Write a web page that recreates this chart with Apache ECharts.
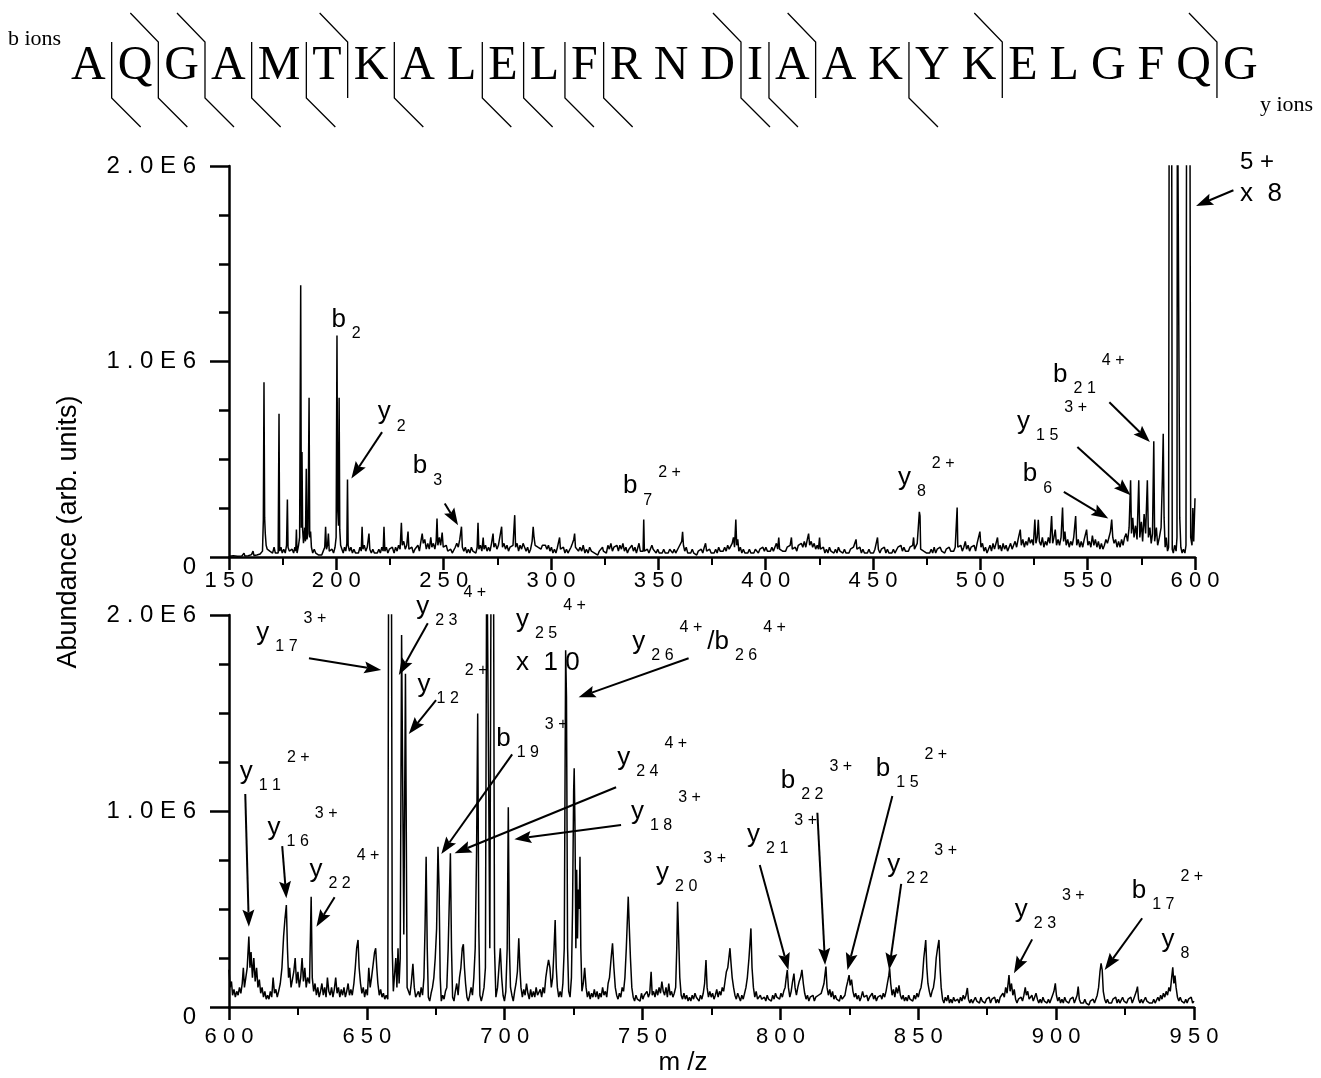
<!DOCTYPE html>
<html><head><meta charset="utf-8">
<script src="https://cdn.jsdelivr.net/npm/echarts@6/dist/echarts.min.js"></script>
<style>html,body{margin:0;padding:0;background:#fff}#c{width:1321px;height:1078px}</style>
</head><body><div id="c"></div>
<script>
// ---------------- data ----------------
const sequence = 'AQGAMTKALELFRNDIAAKYKELGFQG'.split('');
const bCleavages = [1,2,3,4,5,7,9,10,11,12,15,16,19];   // cleavage after residue n (b-ion marker)
const yCleavages = [2,3,6,15,17,21,26];                 // cleavage after residue n (y-ion marker)

const topRange = [150, 600];
const bottomRange = [600, 950];
const abundanceRange = [0, 2];   // in units of 1E6

// top panel spectrum  [m/z, abundance (E6)]
const topSpectrum = [
[150,0.004],[152,0.006],[154,0.004],[156,0.005],[157,0.02],[157.4,0.005],[159,0.006],[160.5,0.012],[161.2,0.03],[161.6,0.008],[163,0.01],[164.5,0.015],
[165.6,0.03],[166.0,0.19],[166.3,0.894],[166.6,0.2],[166.9,0.12],[167.3,0.06],[167.8,0.04],[168.4,0.05],[169,0.03],[169.6,0.04],[170.3,0.02],[171,0.05],[171.6,0.02],[172.3,0.03],[172.9,0.02],
[173.3,0.733],[173.6,0.03],[174.2,0.05],[174.8,0.02],[175.5,0.04],[176.2,0.02],[176.8,0.06],[177.2,0.294],[177.5,0.05],[178.1,0.03],[178.8,0.02],[179.4,0.04],[180.1,0.02],[180.7,0.05],[181.1,0.03],[181.4,0.14],[181.7,0.02],[182.4,0.06],[182.9,0.1],[183.4,1.39],[183.7,0.15],[184.0,0.537],[184.3,0.14],[184.7,0.07],[185.2,0.15],[185.6,0.08],[186.0,0.452],[186.3,0.09],[186.8,0.12],[187.3,0.815],[187.6,0.1],[188.0,0.13],[188.4,0.05],[189,0.02],[189.7,0.04],[190.4,0.02],[191.1,0.03],[191.8,0.01],[192.5,0.02],[193.2,0.01],[193.9,0.03],[194.6,0.05],[195.0,0.155],[195.4,0.04],[195.9,0.06],[196.3,0.12],[196.7,0.03],[197.3,0.02],[198,0.04],[198.7,0.02],[199.4,0.05],[199.9,0.1],[200.3,1.133],[200.6,0.25],[201.0,0.16],[201.3,0.815],[201.6,0.14],[202.0,0.06],[202.6,0.04],[203.2,0.02],[203.8,0.05],[204.4,0.03],[204.9,0.07],[205.2,0.396],[205.5,0.06],[206.1,0.03],[206.8,0.05],[207.5,0.02],[208.2,0.04],[208.9,0.02],[209.6,0.03],[210.3,0.02],[211,0.05],[211.6,0.03],[212,0.155],[212.4,0.04],[213,0.06],[213.7,0.03],[214.4,0.05],[215.2,0.12],[215.6,0.04],[216.3,0.02],[217,0.04],[217.7,0.02],[218.4,0.03],[219.1,0.02],[219.8,0.04],[220.5,0.02],[221.2,0.05],[221.8,0.03],[222.2,0.155],[222.6,0.03],[223.3,0.05],[224,0.02],[224.7,0.04],[225.4,0.03],[226.1,0.05],[226.5,0.06],[226.9,0.02],[227.6,0.05],[228.3,0.03],[229,0.06],[229.7,0.04],[230.3,0.175],[230.7,0.06],[231.4,0.08],[232.1,0.04],[232.8,0.06],[233.4,0.13],[233.8,0.04],[234.5,0.03],[235.2,0.05],[235.9,0.02],[236.6,0.04],[237.3,0.03],[238,0.06],[238.7,0.03],[239.4,0.08],[240,0.12],[240.5,0.07],[241.2,0.09],[241.9,0.04],[242.6,0.07],[243.3,0.04],[244,0.1],[244.5,0.05],[245.2,0.07],[245.9,0.04],[246.5,0.08],[246.9,0.197],[247.3,0.06],[248,0.1],[248.6,0.06],[249.3,0.125],[249.8,0.05],[250.5,0.04],[251.2,0.06],[251.9,0.03],[252.6,0.02],[253.3,0.04],[254,0.02],[254.7,0.03],[255.4,0.05],[256.1,0.07],[256.8,0.05],[257.5,0.09],[258,0.1],[258.3,0.155],[258.7,0.05],[259.4,0.03],[260.1,0.05],[260.8,0.02],[261.5,0.04],[262.2,0.02],[262.9,0.05],[263.6,0.03],[264.3,0.04],[265,0.02],[265.6,0.05],[266,0.175],[266.4,0.04],[267.1,0.06],[267.8,0.03],[268.4,0.1],[268.8,0.04],[269.5,0.06],[270.2,0.03],[270.9,0.05],[271.6,0.03],[272.3,0.07],[273,0.12],[273.4,0.05],[274.1,0.07],[274.8,0.04],[275.5,0.06],[276.2,0.05],[277,0.155],[277.4,0.05],[278.1,0.07],[278.8,0.04],[279.5,0.06],[280.2,0.03],[280.9,0.05],[281.6,0.04],[282.3,0.06],[283.1,0.214],[283.5,0.05],[284.2,0.07],[284.9,0.03],[285.6,0.06],[286.3,0.04],[287,0.07],[287.7,0.05],[288.4,0.03],[289.1,0.05],[289.8,0.02],[290.5,0.04],[291.2,0.08],[291.7,0.155],[292.1,0.1],[292.6,0.06],[293.2,0.07],[293.9,0.05],[294.6,0.06],[295.3,0.04],[296,0.06],[296.7,0.05],[297.4,0.06],[298.1,0.04],[298.8,0.06],[299.5,0.03],[300.2,0.05],[300.9,0.02],[301.6,0.04],[302.3,0.02],[303,0.05],[303.6,0.06],[304,0.1],[304.4,0.04],[305.1,0.03],[305.8,0.05],[306.5,0.02],[307.2,0.04],[307.9,0.02],[308.6,0.03],[309.3,0.05],[310,0.07],[310.6,0.09],[311,0.12],[311.4,0.05],[312.1,0.06],[312.8,0.03],
[313.5,0.05],[314.3,0.03],[315,0.06],[315.8,0.02],[316.5,0.04],[317.3,0.02],[318,0.05],[318.8,0.03],[319.5,0.04],[320.3,0.02],[321,0.03],[321.8,0.01],[322.5,0.03],[323.2,0.02],[324,0.05],[324.4,0.03],[325.1,0.04],[325.8,0.02],[326.5,0.06],[327.2,0.04],[327.9,0.07],[328.6,0.03],[329.3,0.05],[330,0.04],[330.7,0.06],[331.4,0.03],[332.1,0.06],[332.8,0.04],[333.5,0.07],[334.2,0.03],[334.9,0.05],[335.6,0.02],[336.3,0.04],[337,0.03],[337.7,0.06],[338.4,0.03],[339.1,0.05],[339.8,0.02],[340.5,0.05],[341,0.07],[341.6,0.03],[342.3,0.04],[342.9,0.03],[343.2,0.192],[343.5,0.03],[344.2,0.02],[344.9,0.04],[345.6,0.02],[346.3,0.03],[347,0.06],[347.6,0.04],[348.3,0.05],[349,0.02],[349.7,0.04],[350.4,0.02],[351.1,0.03],[351.8,0.02],[352.5,0.04],[353.2,0.02],[353.9,0.03],[354.6,0.02],[355.3,0.04],[356,0.03],[356.7,0.02],[357.4,0.04],[358.1,0.02],[358.8,0.03],[359.5,0.05],[360.2,0.04],[360.9,0.08],[361.3,0.129],[361.7,0.06],[362.3,0.03],[363,0.05],[363.7,0.02],[364.4,0.03],[365.1,0.02],[365.8,0.04],[366.5,0.02],[367.2,0.03],[367.9,0.01],[368.6,0.03],[369.3,0.02],[370,0.04],[370.7,0.02],[371.4,0.05],[372,0.07],[372.5,0.03],[373.2,0.02],[373.9,0.04],[374.6,0.02],[375.3,0.03],[376,0.02],[376.7,0.04],[377.4,0.02],[378.1,0.05],[378.8,0.03],[379.5,0.04],[380.2,0.03],[380.9,0.05],[381.6,0.03],[382.3,0.06],[383,0.04],[383.7,0.05],[384.4,0.07],[385,0.1],[385.5,0.05],[386.1,0.192],[386.5,0.06],[387,0.09],[387.5,0.03],[388.2,0.05],[388.9,0.02],[389.6,0.04],[390.3,0.02],[391,0.03],[391.7,0.02],[392.4,0.04],[393.1,0.02],[393.8,0.03],[394.5,0.02],[395.2,0.04],[395.9,0.03],[396.6,0.02],[397.3,0.04],[398,0.03],[398.7,0.05],[399.4,0.03],[400.1,0.05],[400.8,0.03],[401.5,0.04],[402.2,0.03],[402.9,0.05],[403.6,0.03],[404.3,0.05],[405,0.07],[405.6,0.04],[406.1,0.1],[406.5,0.04],[407.2,0.05],[407.9,0.03],[408.6,0.04],[409.3,0.03],[410,0.05],[410.7,0.04],[411.4,0.06],[412,0.1],[412.4,0.04],[413.1,0.03],[413.8,0.05],[414.5,0.03],[415.2,0.06],[415.9,0.05],[416.6,0.07],[417.3,0.05],[418,0.08],[418.7,0.05],[419.4,0.09],[420,0.12],[420.5,0.06],[421.2,0.08],[421.9,0.05],[422.6,0.07],[423.3,0.04],[424,0.06],[424.6,0.04],[425.1,0.1],[425.5,0.04],[426.2,0.03],[426.9,0.05],[427.6,0.02],[428.3,0.04],[429,0.02],[429.7,0.05],[430.4,0.03],[431.1,0.04],[431.8,0.02],[432.5,0.04],[433.2,0.02],[433.9,0.05],[434.6,0.03],[435.3,0.04],[436,0.02],[436.7,0.04],[437.4,0.02],[438.1,0.03],[438.8,0.02],[439.5,0.04],[440.2,0.03],[440.9,0.05],[441.6,0.04],[442.1,0.09],[442.5,0.04],[443.2,0.03],[443.9,0.05],[444.6,0.02],[445.3,0.04],[446,0.02],[446.7,0.03],[447.4,0.02],[448.1,0.04],[448.8,0.02],[449.5,0.03],[450.2,0.02],[450.9,0.04],[451.6,0.05],[452.1,0.1],[452.5,0.04],[453.2,0.02],[453.9,0.04],[454.6,0.03],[455.3,0.05],[456,0.02],[456.7,0.04],[457.4,0.02],[458.1,0.03],[458.8,0.02],[459.5,0.04],[460.2,0.02],[460.9,0.03],[461.6,0.05],[462.3,0.04],[463,0.06],[463.7,0.03],[464.4,0.05],[465.1,0.03],[465.8,0.04],[466.5,0.03],[467.2,0.05],[467.9,0.04],[468.5,0.06],[468.9,0.1],[469.3,0.04],[470,0.05],[470.6,0.07],[471.1,0.15],[471.6,0.231],[471.9,0.21],[472.2,0.04],[472.9,0.05],[473.6,0.03],[474.3,0.04],[475,0.02],[475.7,0.03],[476.4,0.02],[477.1,0.04],[477.8,0.02],[478.5,0.05],[479.2,0.02],[479.9,0.04],[480.6,0.03],[481.3,0.05],[482,0.03],[482.7,0.04],[483.4,0.02],[484.1,0.04],[484.8,0.03],[485.5,0.05],[486.2,0.03],[486.9,0.04],[487.6,0.03],[488.3,0.05],[488.9,0.06],[489.2,0.253],[489.5,0.05],[490.2,0.04],
[490.9,0.06],[491.6,0.03],[492.3,0.05],[493,0.08],[493.6,0.04],[494.3,0.06],[495,0.03],[495.7,0.05],[496.4,0.04],[497.1,0.06],[497.8,0.03],[498.5,0.07],[499.2,0.06],[499.8,0.13],[500.3,0.05],[501,0.07],[501.7,0.03],[502.4,0.05],[503.1,0.02],[503.8,0.04],[504.5,0.06],[505.2,0.03],[505.9,0.07],[506.6,0.04],[507.3,0.05],[508,0.1],[508.5,0.04],[509.2,0.06],[509.9,0.03],[510.6,0.07],[511.3,0.04],[512,0.06],[512.7,0.03],[513.4,0.05],[514.1,0.07],[514.8,0.04],[515.5,0.06],[516.2,0.08],[516.9,0.05],[517.6,0.09],[518.6,0.14],[519.1,0.06],[519.8,0.09],[520.5,0.05],[521.2,0.08],[521.9,0.06],[522.6,0.1],[523.3,0.07],[524,0.09],[524.7,0.06],[525.4,0.192],[525.9,0.07],[526.5,0.1],[527,0.19],[527.5,0.08],[528.2,0.06],[528.9,0.1],[529.6,0.05],[530.3,0.08],[531,0.06],[531.7,0.1],[532.4,0.07],[533.2,0.209],[533.7,0.07],[534.3,0.1],[534.9,0.14],[535.5,0.06],[536.2,0.09],[536.9,0.06],[537.6,0.1],[538.3,0.253],[538.8,0.08],[539.4,0.13],[540,0.06],[540.7,0.09],[541.4,0.05],[542.1,0.08],[542.8,0.06],[543.5,0.1],[544.4,0.209],[544.9,0.06],[545.6,0.09],[546.3,0.05],[547,0.08],[547.7,0.05],[548.4,0.09],[549.5,0.14],[550.1,0.06],[550.8,0.08],[551.5,0.05],[552.2,0.11],[552.9,0.06],[553.6,0.09],[554.3,0.05],[555,0.08],[555.7,0.04],[556.4,0.07],[557.1,0.04],[557.8,0.06],[558.5,0.09],[559.2,0.07],[559.9,0.1],[560.6,0.13],[561.2,0.192],[561.7,0.1],[562.3,0.07],[563,0.09],[563.7,0.05],[564.4,0.08],[565.1,0.05],[565.8,0.09],[566.5,0.06],[567.2,0.1],[567.9,0.12],[568.6,0.08],[569.3,0.15],[570,0.393],[570.4,0.12],[571,0.2],[571.6,0.1],[572.3,0.16],[573,0.09],[573.8,0.393],[574.3,0.1],[575,0.18],[575.6,0.08],[576.3,0.22],[577,0.12],[577.8,0.393],[578.3,0.1],[579,0.15],[579.6,0.07],[580.2,0.12],[580.8,0.592],[581.2,0.08],[582,0.15],[582.6,0.06],[583.4,0.1],[584.2,0.15],
[584.8,0.4],[585.2,0.631],[585.6,0.2],[586.1,0.05],[586.6,0.1],[587.2,0.03],[587.7,0.05],[588.0,2.6],[589.1,2.6],[589.4,0.04],[589.9,0.02],[590.5,0.06],[591.2,0.03],[591.6,0.1],[591.8,2.6],[592.6,2.6],[592.9,0.2],[593.4,0.05],[594.0,0.02],[594.6,0.04],[595.3,0.02],[595.8,0.06],[596.1,2.6],[597.6,2.6],[598.0,0.1],[598.6,0.06],[599.0,0.25],[599.4,0.08],[600,0.3]
];

// bottom panel spectrum  [m/z, abundance (E6)]
const bottomSpectrum = [
[600,0.19],[600.4,0.1],[600.9,0.13],[601.3,0.06],[601.8,0.09],[602.3,0.05],[602.8,0.08],[603.3,0.06],[603.8,0.1],[604.3,0.07],[604.8,0.12],[605.2,0.2],[605.6,0.1],[606.1,0.15],[606.6,0.2],[607.2,0.359],[607.6,0.2],[608,0.28],[608.5,0.15],[609,0.25],[609.5,0.13],[610,0.2],[610.5,0.1],[611,0.14],[611.5,0.07],[612,0.1],[612.5,0.05],[613,0.08],[613.5,0.04],[614,0.06],[614.5,0.04],[615,0.08],[615.5,0.05],[616,0.15],[616.5,0.07],[617,0.09],[617.5,0.05],[618,0.08],[618.6,0.12],[619.2,0.2],[619.8,0.36],[620.3,0.45],[620.8,0.52],[621.2,0.3],[621.6,0.15],[622,0.2],[622.5,0.1],[623,0.14],[623.5,0.18],[624,0.25],[624.5,0.12],[625,0.18],[625.5,0.1],[626,0.15],[626.5,0.25],[627,0.13],[627.5,0.2],[628,0.1],[628.5,0.15],[629.2,0.12],[629.8,0.563],[630.2,0.15],[630.7,0.08],[631.2,0.12],[631.7,0.06],[632.2,0.1],[632.7,0.05],[633.2,0.08],[633.7,0.12],[634.2,0.06],[634.7,0.1],[635.2,0.05],[635.7,0.15],[636.2,0.08],[636.7,0.06],[637.2,0.1],[637.7,0.05],[638.2,0.09],[638.7,0.15],[639.2,0.07],[639.7,0.1],[640.2,0.05],[640.7,0.09],[641.2,0.06],[641.7,0.1],[642.2,0.05],[642.7,0.08],[643.2,0.12],[643.7,0.06],[644.2,0.09],[644.7,0.06],[645.3,0.12],[645.8,0.2],[646.3,0.3],[646.8,0.342],[647.2,0.2],[647.7,0.12],[648.2,0.07],[648.7,0.1],[649.2,0.05],[649.7,0.09],[650.2,0.06],[650.7,0.2],[651.2,0.1],[651.7,0.15],[652.3,0.22],[652.8,0.28],[653.2,0.3],[653.6,0.2],[654,0.12],[654.5,0.06],[655,0.09],[655.5,0.05],[656,0.07],[656.5,0.04],[657,0.06],[657.6,0.04],[657.9,2.4],[658.9,2.4],[659.2,0.3],[659.6,0.08],[660.1,0.08],[660.5,0.25],[660.9,0.1],[661.3,0.3],[661.7,0.12],[662.1,0.25],[662.6,1.898],[663.4,0.37],[664.0,1.70],[664.6,0.1],[665.1,0.08],[665.6,0.06],[666.1,0.12],[666.7,0.22],[667.2,0.1],[667.7,0.05],[668.2,0.04],[668.7,0.08],[669.2,0.05],[669.7,0.1],[670.2,0.06],[670.7,0.15],[671.1,0.4],[671.5,0.767],[671.9,0.3],[672.3,0.05],[672.8,0.03],[673.3,0.07],[673.8,0.1],[674.3,0.15],[674.8,0.25],[675.3,0.4],[675.8,0.818],[676.2,0.6],[676.6,0.15],[677.0,0.03],[677.5,0.06],[678,0.04],[678.5,0.08],[679,0.1],[679.5,0.3],[680.0,0.6],[680.3,0.784],[680.7,0.3],[681.1,0.05],[681.6,0.03],[682.1,0.08],[682.6,0.12],[683.1,0.06],[683.6,0.15],[684.1,0.2],[684.6,0.3],[685.0,0.32],[685.4,0.2],[685.8,0.12],[686.3,0.05],[686.8,0.03],[687.3,0.06],[687.8,0.1],[688.3,0.06],[688.8,0.15],[689.3,0.3],[689.8,0.8],[690.2,1.498],[690.6,0.4],[691,0.06],[691.5,0.03],[692,0.06],[692.5,0.1],[693.0,0.2],[693.5,2.5],[694.2,2.5],[694.6,0.3],[695.1,2.5],[695.9,2.5],[696.3,0.3],[696.8,0.05],[697.4,0.1],[697.9,0.2],[698.4,0.3],[698.9,0.15],[699.4,0.06],[699.9,0.03],[700.4,0.08],[700.9,0.3],[701.3,1.019],[701.7,0.3],[702.1,0.1],[702.6,0.06],[703.1,0.03],[703.6,0.08],[704.1,0.12],[704.6,0.18],[705.1,0.35],[705.5,0.2],[705.9,0.1],[706.4,0.05],[706.9,0.09],[707.4,0.06],[707.9,0.12],[708.4,0.07],[708.9,0.04],[709.4,0.09],[709.9,0.05],[710.4,0.08],[710.9,0.05],[711.4,0.1],[711.9,0.06],[712.4,0.05],[712.9,0.09],[713.4,0.05],[713.9,0.1],[714.4,0.07],[714.9,0.15],[715.4,0.2],[715.9,0.24],[716.4,0.2],[716.9,0.1],[717.4,0.15],[717.9,0.3],[718.3,0.444],[718.7,0.2],[719.1,0.1],[719.6,0.05],[720.1,0.08],[720.6,0.05],[721.1,0.12],[721.6,0.3],[722.1,1.82],[722.4,1.58],[722.8,0.3],[723.2,0.08],[723.7,0.05],[724.2,0.15],[724.6,0.5],[725.0,1.1],[725.2,1.218],[725.5,0.9],[725.8,0.3],[726.1,0.7],[726.4,0.35],[726.7,0.6],[727.0,0.5],[727.3,0.767],[727.6,0.3],[728,0.08],[728.5,0.12],[729,0.2],[729.5,0.1],[730,0.05],[730.5,0.08],[731,0.04],[731.5,0.07],[732,0.05],[732.5,0.09],[733,0.05],[733.5,0.08],[734,0.04],[734.5,0.07],[735,0.05],[735.5,0.1],[736,0.06],[736.5,0.08],[737,0.05],[737.5,0.12],[738,0.15],[738.6,0.25],[739.1,0.325],[739.6,0.2],[740.1,0.1],[740.6,0.06],[741.1,0.04],[741.6,0.07],[742.1,0.05],[742.6,0.1],[743.1,0.08],[743.6,0.15],[744.1,0.3],[744.5,0.45],[744.8,0.563],[745.2,0.4],[745.6,0.25],[746.1,0.1],[746.6,0.05],[747.1,0.03],[747.6,0.06],[748.1,0.04],[748.6,0.05],[749.1,0.03],[749.6,0.07],[750.1,0.04],[750.6,0.06],[751.1,0.05],[751.6,0.08],[752.1,0.05],[752.6,0.07],[753.1,0.18],[753.5,0.06],[754,0.08],[754.5,0.05],[755,0.09],[755.5,0.06],[756,0.1],[756.5,0.07],[757,0.13],[757.5,0.08],[758,0.06],[758.5,0.1],[759,0.05],[759.5,0.12],[760,0.06],[760.5,0.08],[761,0.05],[761.5,0.07],[762,0.1],[762.4,0.3],[762.7,0.537],[763.1,0.35],[763.5,0.15],[764,0.06],[764.5,0.04],[765,0.07],[765.5,0.04],[766,0.06],[766.5,0.03],[767,0.05],[767.5,0.03],[768,0.06],[768.5,0.04],[769,0.07],[769.5,0.05],[770,0.06],[770.5,0.03],[771,0.06],[771.5,0.04],[772,0.07],[772.5,0.12],[773,0.24],[773.4,0.1],[773.9,0.05],[774.4,0.08],[774.9,0.05],[775.4,0.07],[775.9,0.04],[776.4,0.06],[776.9,0.09],[777.4,0.05],[777.9,0.08],[778.4,0.06],[778.9,0.1],[779.4,0.08],[779.9,0.13],[780.4,0.18],[780.9,0.2],[781.3,0.25],[781.7,0.3],[782.1,0.22],[782.5,0.15],[783,0.1],[783.5,0.06],[784,0.04],[784.5,0.07],[785,0.05],[785.5,0.03],[786,0.06],[786.5,0.04],[787,0.07],[787.5,0.1],[788,0.15],[788.6,0.25],[789.3,0.401],[789.7,0.2],[790.2,0.1],[790.7,0.05],[791.2,0.08],[791.7,0.04],[792.2,0.03],[792.7,0.06],[793.2,0.04],[793.7,0.03],[794.2,0.05],[794.7,0.03],[795.2,0.06],[795.7,0.04],[796.2,0.05],[796.7,0.03],[797.2,0.06],[797.7,0.04],[798.2,0.07],[798.7,0.05],[799.2,0.06],[799.7,0.04],[800.2,0.07],[800.7,0.05],[801.2,0.08],[801.7,0.1],[802.1,0.15],[802.5,0.189],[802.9,0.1],[803.4,0.05],[803.9,0.08],[804.4,0.13],[804.9,0.17],[805.3,0.1],[805.8,0.06],[806.3,0.1],[806.8,0.13],[807.3,0.15],[807.8,0.19],[808.3,0.12],[808.8,0.07],[809.3,0.04],[809.8,0.06],[810.3,0.03],[810.8,0.05],[811.3,0.04],[811.8,0.06],[812.3,0.03],[812.8,0.05],[813.3,0.04],[813.8,0.06],[814.3,0.05],[814.8,0.07],[815.3,0.06],[815.8,0.12],[816.2,0.17],[816.5,0.206],[816.9,0.1],[817.4,0.06],[817.9,0.09],[818.4,0.05],[818.9,0.08],[819.4,0.04],[819.9,0.06],[820.4,0.04],[820.9,0.05],[821.4,0.03],[821.9,0.06],[822.4,0.04],[822.9,0.03],[823.4,0.06],[823.9,0.1],[824.4,0.13],[824.9,0.163],[825.3,0.11],[825.8,0.14],[826.3,0.08],[826.8,0.05],[827.3,0.07],[827.8,0.04],[828.3,0.06],[828.8,0.03],[829.3,0.05],[829.8,0.08],[830.3,0.05],[830.8,0.04],[831.3,0.06],[831.8,0.03],[832.3,0.05],[832.8,0.04],[833.3,0.07],[833.8,0.04],[834.3,0.06],[834.8,0.03],[835.3,0.05],[835.8,0.04],[836.3,0.06],[836.8,0.04],[837.3,0.07],[837.8,0.05],[838.3,0.08],[838.8,0.12],[839.3,0.16],[839.6,0.197],[840,0.12],[840.5,0.06],[841,0.09],[841.5,0.05],[842,0.1],[842.5,0.07],[843,0.11],[843.5,0.06],[844,0.04],[844.5,0.06],[845,0.03],[845.5,0.05],[846,0.03],[846.5,0.06],[847,0.04],[847.5,0.05],[848,0.03],[848.5,0.06],[849,0.04],[849.5,0.07],[850,0.05],[850.5,0.08],[851,0.1],[851.5,0.15],[852,0.25],[852.4,0.3],[852.7,0.342],[853.1,0.2],[853.5,0.12],[854,0.08],[854.5,0.05],[855,0.08],[855.5,0.1],[856,0.15],[856.5,0.25],[857,0.3],[857.5,0.342],[857.9,0.2],[858.3,0.1],[858.8,0.04],[859.3,0.02],[859.8,0.05],[860.3,0.03],[860.8,0.06],[861.3,0.02],[861.8,0.04],[862.3,0.02],[862.8,0.05],[863.3,0.03],[863.8,0.02],[864.3,0.04],[864.8,0.02],[865.3,0.05],[865.8,0.03],[866.3,0.06],[866.8,0.04],[867.3,0.06],[867.8,0.097],[868.2,0.04],[868.7,0.02],[869.2,0.04],[869.7,0.02],[870.2,0.03],[870.7,0.05],[871.2,0.03],[871.7,0.04],[872.2,0.02],[872.7,0.05],[873.2,0.03],[873.7,0.04],[874.2,0.02],[874.7,0.04],[875.2,0.03],[875.7,0.05],[876.2,0.02],[876.7,0.04],[877.2,0.03],[877.7,0.05],[878.2,0.02],[878.7,0.04],[879.2,0.02],[879.7,0.05],[880.2,0.04],[880.7,0.07],[881.2,0.05],[881.7,0.1],[882.2,0.07],[882.9,0.163],[883.3,0.08],[883.8,0.12],[884.3,0.06],[884.8,0.09],[885.3,0.04],[885.8,0.02],[886.3,0.04],[886.8,0.03],[887.3,0.05],[887.8,0.03],[888.3,0.06],[888.8,0.1],[889.2,0.06],[889.7,0.08],[890.2,0.04],[890.7,0.03],[891.2,0.06],[891.7,0.03],[892.2,0.05],[892.7,0.07],[893.2,0.04],[893.7,0.02],[894.2,0.04],[894.7,0.02],[895.2,0.05],[895.7,0.03],[896.2,0.04],[896.7,0.02],[897.2,0.04],[897.7,0.02],[898.2,0.03],[898.7,0.06],[899.2,0.08],[899.7,0.121],[900.1,0.06],[900.6,0.03],[901.1,0.05],[901.6,0.02],[902.1,0.04],[902.6,0.02],[903.1,0.05],[903.6,0.03],[904.1,0.04],[904.6,0.02],[905.1,0.04],[905.6,0.03],[906.1,0.05],[906.6,0.02],[907.1,0.04],[907.6,0.06],[908,0.104],[908.4,0.04],[908.9,0.02],[909.4,0.03],[909.9,0.02],[910.4,0.04],[910.9,0.02],[911.4,0.03],[911.9,0.01],[912.4,0.03],[912.9,0.02],[913.4,0.04],[913.9,0.02],[914.4,0.03],[914.9,0.06],[915.4,0.1],[915.9,0.18],[916.3,0.223],[916.7,0.19],[917.1,0.08],[917.6,0.04],[918.1,0.02],[918.6,0.04],[919.1,0.02],[919.6,0.03],[920.1,0.02],[920.6,0.04],[921.1,0.03],[921.6,0.05],[922.1,0.02],[922.6,0.04],[923.1,0.02],[923.6,0.03],[924.1,0.05],[924.6,0.03],[925.1,0.04],[925.6,0.02],[926.1,0.04],[926.6,0.03],[927.1,0.05],[927.6,0.02],[928.1,0.04],[928.6,0.06],[929.1,0.08],[929.5,0.104],[929.9,0.04],[930.4,0.02],[930.9,0.04],[931.4,0.02],[931.9,0.03],[932.4,0.05],[932.9,0.03],[933.4,0.04],[933.9,0.02],[934.4,0.03],[934.9,0.02],[935.4,0.04],[935.9,0.02],[936.4,0.03],[936.9,0.05],[937.4,0.03],[937.9,0.06],[938.4,0.04],[938.9,0.07],[939.4,0.05],[939.9,0.08],[940.4,0.06],[940.9,0.1],[941.4,0.08],[941.9,0.15],[942.3,0.202],[942.7,0.12],[943.1,0.16],[943.5,0.1],[944,0.05],[944.5,0.03],[945,0.05],[945.5,0.03],[946,0.04],[946.5,0.02],[947,0.04],[947.5,0.02],[948,0.04],[948.5,0.03],[949,0.05],[949.5,0.02],[950,0.03]
];

// ion labels: parts [style, text], anchored at [m/z, abundance] (left edge / baseline of main letter)
const topLabels = [
  {parts:[['m','b'],['s','2']], at:[197.7,1.168]},
  {parts:[['m','y'],['s','2']], at:[219.3,0.694]},
  {parts:[['m','b'],['s','3']], at:[235.6,0.418]},
  {parts:[['m','b'],['s','7'],['p','2 +']], at:[333.5,0.316]},
  {parts:[['m','y'],['s','8'],['p','2 +']], at:[461.6,0.358]},
  {parts:[['m','b'],['s','6']], at:[519.8,0.378]},
  {parts:[['m','y'],['s','1 5'],['p','3 +']], at:[517.1,0.645]},
  {parts:[['m','b'],['s','2 1'],['p','4 +']], at:[533.9,0.888]}
];
const topNotes = [ {text:'5 +', size:24, at:[621,1.974]}, {text:'x  8', size:26, at:[621,1.811]} ];
const topArrows = [
  [[221.3,0.639],[207.0,0.402]], [[250.5,0.274],[256.7,0.163]], [[538.9,0.333],[559.6,0.197]],
  [[545.2,0.563],[570.0,0.316]], [[560.1,0.792],[579.0,0.588]], [[617.9,1.876],[600.5,1.796]]
];
const bottomLabels = [
  {parts:[['m','y'],['s','1 7'],['p','3 +']], at:[609.9,1.865]},
  {parts:[['m','y'],['s','2 3'],['p','4 +']], at:[667.9,1.997]},
  {parts:[['m','y'],['s','1 2'],['p','2 +']], at:[668.4,1.599]},
  {parts:[['m','b'],['s','1 9'],['p','3 +']], at:[696.9,1.321]},
  {parts:[['m','y'],['s','1 1'],['p','2 +']], at:[603.9,1.156]},
  {parts:[['m','y'],['s','1 6'],['p','3 +']], at:[614.0,0.870]},
  {parts:[['m','y'],['s','2 2'],['p','4 +']], at:[629.2,0.656]},
  {parts:[['m','y'],['s','2 5'],['p','4 +']], at:[704.1,1.931]},
  {parts:[['m','y'],['s','2 6'],['p','4 +'],['n','/b'],['s','2 6'],['p','4 +']], at:[746.3,1.819]},
  {parts:[['m','y'],['s','2 4'],['p','4 +']], at:[740.8,1.227]},
  {parts:[['m','y'],['s','1 8'],['p','3 +']], at:[745.8,0.952]},
  {parts:[['m','y'],['s','2 0'],['p','3 +']], at:[754.9,0.640]},
  {parts:[['m','y'],['s','2 1'],['p','3 +']], at:[787.9,0.834]},
  {parts:[['m','b'],['s','2 2'],['p','3 +']], at:[800.1,1.107]},
  {parts:[['m','b'],['s','1 5'],['p','2 +']], at:[834.6,1.168]},
  {parts:[['m','y'],['s','2 2'],['p','3 +']], at:[838.7,0.681]},
  {parts:[['m','y'],['s','2 3'],['p','3 +']], at:[885.0,0.452]},
  {parts:[['m','b'],['s','1 7'],['p','2 +']], at:[927.4,0.546]},
  {parts:[['m','y'],['s','8']], at:[938.2,0.298]}
];
const bottomNotes = [ {text:'x  1 0', size:26, at:[704.1,1.709]} ];
const bottomArrows = [
  [[629.0,1.779],[655.2,1.719]], [[672.1,1.958],[661.6,1.694]], [[675.1,1.566],[665.2,1.393]],
  [[702.7,1.289],[677.0,0.781]], [[605.9,1.087],[607.2,0.410]], [[619.3,0.821],[620.8,0.555]],
  [[638.3,0.560],[631.7,0.410]], [[766.7,1.779],[726.8,1.580]], [[740.4,1.121],[681.8,0.784]],
  [[742.2,0.929],[703.5,0.856]], [[792.5,0.724],[802.9,0.189]], [[813.4,0.991],[816.2,0.214]],
  [[840.6,1.077],[824.3,0.189]], [[843.8,0.628],[839.4,0.189]], [[891.3,0.345],[884.7,0.172]],
  [[931.2,0.453],[917.6,0.189]]
];

// ---------------- chart ----------------
const SANS = '"Liberation Sans", Arial, Helvetica, sans-serif';
const SERIF = '"Liberation Serif", "Times New Roman", serif';
const spaced = s => String(s).split('').join(' ');
const chart = echarts.init(document.getElementById('c'), null, {renderer:'canvas'});

function mkX(gi, range, margin){
  return {type:'value', gridIndex:gi, min:range[0], max:range[1], interval:50,
    axisLine:{show:true, onZero:false, lineStyle:{color:'#000', width:2.5}},
    axisTick:{show:true, length:13, lineStyle:{color:'#000', width:2.5}},
    minorTick:{show:true, splitNumber:2, length:8, lineStyle:{color:'#000', width:2}},
    splitLine:{show:false}, minorSplitLine:{show:false},
    axisLabel:{margin:margin, fontSize:22, fontFamily:SANS, color:'#000', formatter:v=>spaced(v)}};
}
function mkY(gi){
  return {type:'value', gridIndex:gi, min:abundanceRange[0], max:abundanceRange[1], interval:1,
    axisLine:{show:true, lineStyle:{color:'#000', width:2.5}},
    axisTick:{show:true, length:19, lineStyle:{color:'#000', width:2.5}},
    minorTick:{show:true, splitNumber:4, length:10, lineStyle:{color:'#000', width:2.5}},
    splitLine:{show:false}, minorSplitLine:{show:false},
    axisLabel:{margin:33, fontSize:24, fontFamily:SANS, color:'#000',
      formatter:v=> v===0 ? '{z|0}' : spaced(v.toFixed(1)+'E6'),
      rich:{z:{fontSize:24, fontFamily:SANS, color:'#000', padding:[20,0,0,0]}}}};
}
const lineSeries = (i, data) => ({type:'line', xAxisIndex:i, yAxisIndex:i, data:data,
  showSymbol:false, symbol:'none', silent:true, clip:true, animation:false,
  lineStyle:{color:'#000', width:1.5}});

chart.setOption({
  animation:false, backgroundColor:'#fff',
  grid:[{left:229, top:166, width:966, height:391}, {left:229, top:615, width:965, height:392}],
  xAxis:[mkX(0, topRange, 13), mkX(1, bottomRange, 19)],
  yAxis:[mkY(0), mkY(1)],
  series:[lineSeries(0, topSpectrum), lineSeries(1, bottomSpectrum)]
});

// ---------------- annotations (positions via the chart's own scales) ----------------
const RICH = {
  m:{fontSize:26, lineHeight:44, fontFamily:SANS, fill:'#000'},
  n:{fontSize:26, lineHeight:44, fontFamily:SANS, fill:'#000', padding:[0,0,0,5]},
  s:{fontSize:16, lineHeight:16, fontFamily:SANS, fill:'#000', verticalAlign:'bottom', padding:[0,0,0,6]},
  p:{fontSize:16, lineHeight:16, fontFamily:SANS, fill:'#000', verticalAlign:'top', padding:[0,0,0,6]}
};
const toPx = (gi, p) => chart.convertToPixel({gridIndex:gi}, p);
const G = [];
function addLabels(gi, list){
  list.forEach(a => {
    const [x,y] = toPx(gi, a.at);
    G.push({type:'text', x:x, y:y-9, silent:true, z:10,
      style:{text:a.parts.map(([k,t])=>'{'+k+'|'+t+'}').join(''), rich:RICH, fontSize:26, fontFamily:SANS, fill:'#000', align:'left', verticalAlign:'middle'}});
  });
}
function addNotes(gi, list){
  list.forEach(a => {
    const [x,y] = toPx(gi, a.at);
    G.push({type:'text', x:x, y:y-0.3465*a.size, silent:true, z:10,
      style:{text:a.text, fontSize:a.size, fontFamily:SANS, fill:'#000', align:'left', verticalAlign:'middle'}});
  });
}
function addArrows(gi, list){
  list.forEach(([a,b]) => {
    const p1 = toPx(gi, a), p2 = toPx(gi, b);
    const dx = p2[0]-p1[0], dy = p2[1]-p1[1], len = Math.hypot(dx,dy);
    const ux = dx/len, uy = dy/len, nx = -uy, ny = ux;
    const L = 17, W = 6;
    const bx = p2[0]-ux*L, by = p2[1]-uy*L;
    G.push({type:'line', silent:true, z:10, shape:{x1:p1[0], y1:p1[1], x2:bx+ux*3, y2:by+uy*3}, style:{stroke:'#000', lineWidth:2}});
    G.push({type:'polygon', silent:true, z:10, shape:{points:[[p2[0],p2[1]],[bx+nx*W,by+ny*W],[bx+ux*3,by+uy*3],[bx-nx*W,by-ny*W]]}, style:{fill:'#000'}});
  });
}
addLabels(0, topLabels); addNotes(0, topNotes); addArrows(0, topArrows);
addLabels(1, bottomLabels); addNotes(1, bottomNotes); addArrows(1, bottomArrows);

// sequence header
const seqFont = '48px ' + SERIF;
const seqText = sequence.join(' ');
const seqX = 71;
const mctx = document.createElement('canvas').getContext('2d');
mctx.font = seqFont;
const spaceW = mctx.measureText(' ').width;
G.push({type:'text', x:seqX, y:66, silent:true, style:{text:seqText, font:seqFont, fill:'#000', align:'left', verticalAlign:'middle'}});
const sepX = n => seqX + mctx.measureText(sequence.slice(0,n).join(' ')).width + spaceW/2;
const cuts = Array.from(new Set(bCleavages.concat(yCleavages))).sort((a,b)=>a-b);
cuts.forEach(n => {
  const x = sepX(n), pts = [];
  if (yCleavages.includes(n)) pts.push([x-28,13]);
  pts.push([x,42]); pts.push([x,98]);
  if (bCleavages.includes(n)) pts.push([x+29,127]);
  G.push({type:'polyline', silent:true, shape:{points:pts}, style:{stroke:'#000', lineWidth:1.3, fill:null}});
});
G.push({type:'text', x:8, y:39, silent:true, style:{text:'b ions', font:'22px '+SERIF, fill:'#000', align:'left', verticalAlign:'middle'}});
G.push({type:'text', x:1260, y:105, silent:true, style:{text:'y ions', font:'22px '+SERIF, fill:'#000', align:'left', verticalAlign:'middle'}});
// axis titles
G.push({type:'text', x:69, y:532, rotation:Math.PI/2, silent:true, style:{text:'Abundance (arb. units)', font:'27px '+SANS, fill:'#000', align:'center', verticalAlign:'middle'}});
G.push({type:'text', x:683, y:1063, silent:true, style:{text:'m /z', font:'26px '+SANS, fill:'#000', align:'center', verticalAlign:'middle'}});

chart.setOption({graphic:{elements:G}});
</script>
</body></html>
